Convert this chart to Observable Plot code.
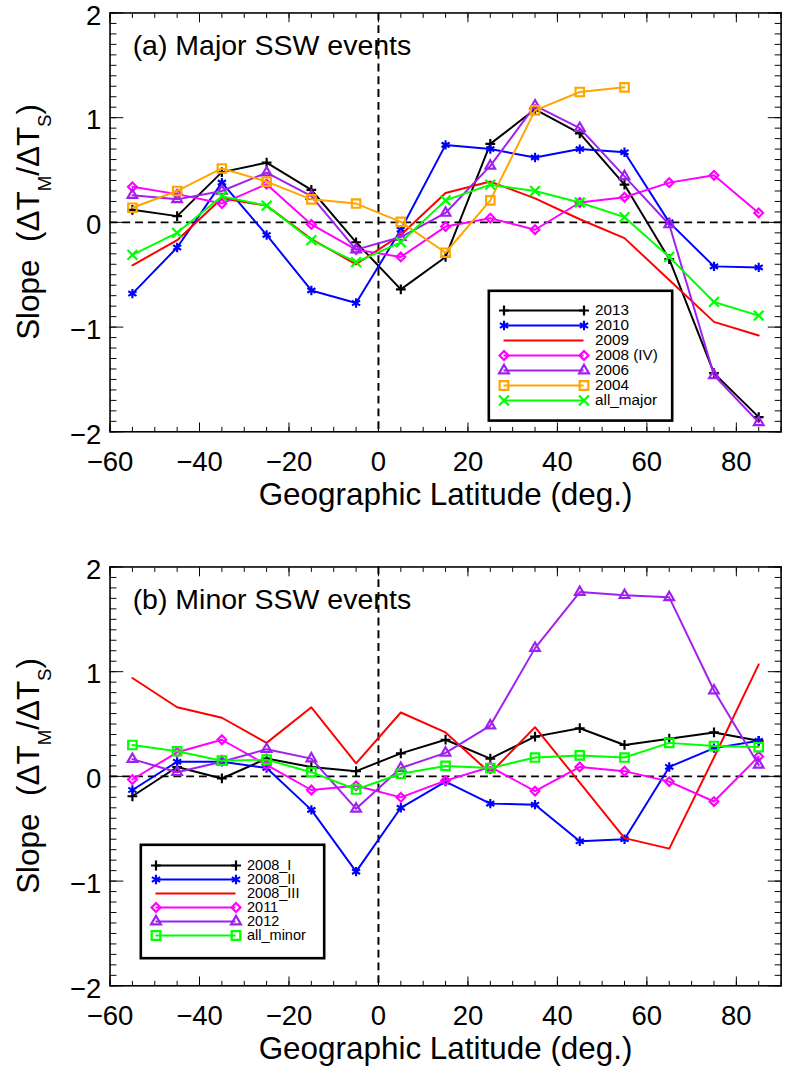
<!DOCTYPE html>
<html><head><meta charset="utf-8">
<script src="https://cdn.jsdelivr.net/npm/d3@7"></script>
<script src="https://cdn.jsdelivr.net/npm/@observablehq/plot@0.6"></script>
<style>
body{margin:0;background:#fff;}
#root{position:relative;width:786px;height:1079px;overflow:hidden;font-family:"Liberation Sans",Arial,sans-serif;background:#fff;}
.abs{position:absolute;}
</style></head><body><div id="root"></div>
<script>
// ---------- data ----------
const latitudes = [-55,-45,-35,-25,-15,-5,5,15,25,35,45,55,65,75,85];

const major2013   = [0.12,0.06,0.48,0.57,0.31,-0.19,-0.64,-0.33,0.75,1.08,0.85,0.36,-0.35,-1.44,-1.86];
const major2010   = [-0.68,-0.24,0.38,-0.12,-0.65,-0.77,-0.07,0.74,0.70,0.62,0.70,0.67,0.00,-0.42,-0.43];
const major2009   = [-0.41,-0.17,0.23,0.16,-0.16,-0.40,-0.12,0.28,0.39,0.23,0.03,-0.15,-0.55,-0.95,-1.08];
const major2008IV = [0.34,0.27,0.18,0.365,-0.02,-0.26,-0.33,-0.04,0.04,-0.07,0.19,0.24,0.38,0.45,0.09];
const major2006   = [0.26,0.22,0.30,0.475,0.25,-0.26,-0.14,0.09,0.54,1.115,0.90,0.44,-0.02,-1.46,-1.91];
const major2004   = [0.14,0.30,0.515,0.39,0.22,0.18,0.005,-0.29,0.21,1.07,1.245,1.29];
const allMajor    = [-0.31,-0.10,0.25,0.16,-0.17,-0.38,-0.19,0.21,0.36,0.30,0.19,0.05,-0.33,-0.76,-0.89];

const minor2008I   = [-0.19,0.09,-0.02,0.17,0.09,0.05,0.22,0.35,0.17,0.38,0.46,0.30,0.36,0.42,0.34];
const minor2008II  = [-0.13,0.14,0.14,0.08,-0.32,-0.91,-0.30,-0.05,-0.26,-0.27,-0.62,-0.60,0.09,0.27,0.34];
const minor2008III = [0.94,0.66,0.56,0.32,0.66,0.125,0.61,0.42,0.03,0.47,-0.06,-0.59,-0.69,0.18,1.07];
const minor2011    = [-0.03,0.23,0.35,0.11,-0.13,-0.09,-0.20,-0.04,0.09,-0.14,0.09,0.05,-0.05,-0.24,0.19];
const minor2012    = [0.165,0.04,0.14,0.26,0.17,-0.31,0.08,0.225,0.485,1.225,1.76,1.73,1.71,0.82,0.11];
const allMinor     = [0.30,0.24,0.15,0.16,0.04,-0.125,0.025,0.10,0.08,0.18,0.20,0.18,0.32,0.29,0.28];

const majorNames = ["2013","2010","2009","2008 (IV)","2006","2004","all_major"];
const minorNames = ["2008_I","2008_II","2008_III","2011","2012","all_minor"];

const xTickLabels = [-60,-40,-20,0,20,40,60,80];
const yTickLabels = [-2,-1,0,1,2];
const xLabel = "Geographic Latitude (deg.)";

// ---------- styles ----------
const SYM = {
  plus:{symbol:"plus", r:3.3},
  asterisk:{symbol:"asterisk", r:4.5},
  diamond:{symbol:"diamond2", r:4.0},
  triangle:{symbol:"triangle2", r:4.7},
  square:{symbol:"square2", r:5.5},
  times:{symbol:"times", r:4.6}
};
const majorSeries = [
  {name:majorNames[0], values:major2013,   color:"#000000", sym:SYM.plus},
  {name:majorNames[1], values:major2010,   color:"#0000ff", sym:SYM.asterisk},
  {name:majorNames[2], values:major2009,   color:"#ff0000", sym:null},
  {name:majorNames[3], values:major2008IV, color:"#ff00ff", sym:SYM.diamond},
  {name:majorNames[4], values:major2006,   color:"#a020f0", sym:SYM.triangle},
  {name:majorNames[5], values:major2004,   color:"#ffa500", sym:SYM.square},
  {name:majorNames[6], values:allMajor,    color:"#00ff00", sym:SYM.times}
];
const minorSeries = [
  {name:minorNames[0], values:minor2008I,   color:"#000000", sym:SYM.plus},
  {name:minorNames[1], values:minor2008II,  color:"#0000ff", sym:SYM.asterisk},
  {name:minorNames[2], values:minor2008III, color:"#ff0000", sym:null},
  {name:minorNames[3], values:minor2011,    color:"#ff00ff", sym:SYM.diamond},
  {name:minorNames[4], values:minor2012,    color:"#a020f0", sym:SYM.triangle},
  {name:minorNames[5], values:allMinor,     color:"#00ff00", sym:SYM.square}
];

const FONT = "Liberation Sans, Arial, Helvetica, sans-serif";
const root = document.getElementById("root");
const intFmt = d3.format("d");

function panel(series, title, topPx) {
  const marks = [
    Plot.ruleY([0], {stroke:"black", strokeWidth:2, strokeDasharray:"8,5"}),
    Plot.ruleX([0], {stroke:"black", strokeWidth:2, strokeDasharray:"8,5"})
  ];
  for (const s of series) {
    const d = s.values.map((v,i)=>({lat:latitudes[i], v}));
    marks.push(Plot.line(d, {x:"lat", y:"v", stroke:s.color, strokeWidth:2}));
    if (s.sym) marks.push(Plot.dot(d, {x:"lat", y:"v", symbol:s.sym.symbol, r:s.sym.r, stroke:s.color, strokeWidth:2.2}));
  }
  const minorX = d3.range(-60, 91, 5);
  const majorX = d3.range(-60, 91, 20);
  const minorY = d3.range(-20, 21, 1).map(d=>d/10);
  marks.push(
    Plot.axisX(minorX, {anchor:"bottom", tickSize:-4.5, fill:"none", label:null}),
    Plot.axisX(majorX, {anchor:"bottom", tickSize:-9, fill:"none", label:null}),
    Plot.axisX(minorX, {anchor:"top", tickSize:-4.5, fill:"none", label:null}),
    Plot.axisX(majorX, {anchor:"top", tickSize:-9, fill:"none", label:null}),
    Plot.axisY(minorY, {anchor:"left", tickSize:-7, fill:"none", label:null}),
    Plot.axisY(yTickLabels, {anchor:"left", tickSize:-14, fill:"none", label:null}),
    Plot.axisY(minorY, {anchor:"right", tickSize:-7, fill:"none", label:null}),
    Plot.axisY(yTickLabels, {anchor:"right", tickSize:-14, fill:"none", label:null}),
    Plot.axisX(xTickLabels, {anchor:"bottom", tickSize:0, tickPadding:20, fontSize:28, tickFormat:intFmt, label:null}),
    Plot.axisY(yTickLabels, {anchor:"left", tickSize:0, tickPadding:9, fontSize:28, dy:3, tickFormat:intFmt, label:null}),
    Plot.frame({stroke:"black", strokeWidth:1.6}),
    Plot.text([title], {frameAnchor:"top-left", dx:23, dy:33, fontSize:29, lineAnchor:"middle", textAnchor:"start"}),
    Plot.text([xLabel], {frameAnchor:"bottom", dy:64, fontSize:32, lineAnchor:"middle"})
  );
  const svg = Plot.plot({
    width:800, height:540,
    marginLeft:111.5, marginRight:5.5, marginTop:12.7, marginBottom:101,
    x:{domain:[-60,90], label:null},
    y:{domain:[-2,2], label:null},
    style:{fontFamily:FONT, background:"transparent", color:"black", overflow:"visible"},
    marks
  });
  // y-axis label with subscripts
  const t = d3.select(svg).append("text")
    .attr("transform", "translate(40,225.85) rotate(-90)")
    .attr("text-anchor", "middle")
    .attr("font-size", 32)
    .attr("font-family", FONT)
    .attr("fill", "black");
  t.append("tspan").text("Slope\u00a0\u00a0(\u0394T");
  t.append("tspan").attr("font-size", 19).attr("dy", 12).text("M");
  t.append("tspan").attr("dy", -12).text("/\u0394T");
  t.append("tspan").attr("font-size", 19).attr("dy", 12).text("S");
  t.append("tspan").attr("dy", -12).text(")");
  const div = document.createElement("div");
  div.className = "abs";
  div.style.left = "0px"; div.style.top = topPx + "px";
  div.appendChild(svg);
  root.appendChild(div);
}

function legend(series, left, top, h, fontSize) {
  const names = series.map(s=>s.name);
  const marks = [Plot.frame({stroke:"black", strokeWidth:2.6, inset:1.3, fill:"white"})];
  for (const s of series) {
    marks.push(Plot.ruleY([s.name], {y:d=>d, x1:0, x2:1, stroke:s.color, strokeWidth:2}));
    if (s.sym) marks.push(Plot.dot([0,1], {x:d=>d, y:()=>s.name, symbol:s.sym.symbol, r:s.sym.r, stroke:s.color, strokeWidth:2.2}));
  }
  marks.push(Plot.text(names, {x:1, y:d=>d, text:d=>d, dx:11, textAnchor:"start", lineAnchor:"middle", fontSize, fill:"black"}));
  const svg = Plot.plot({
    width:186, height:h, margin:0,
    x:{domain:[0,1], range:[16.5,96.5], axis:null},
    y:{type:"point", domain:names, range:[13, 13 + 17.6*(names.length-1)], axis:null},
    style:{fontFamily:FONT, background:"transparent", color:"black", overflow:"visible"},
    marks
  });
  const div = document.createElement("div");
  div.className = "abs";
  div.style.left = left + "px"; div.style.top = top + "px";
  div.appendChild(svg);
  root.appendChild(div);
}

panel(majorSeries, "(a) Major SSW events", 0);
panel(minorSeries, "(b) Minor SSW events", 554.3);
legend(majorSeries, 486.7, 289.3, 132.4, 15.3);
legend(minorSeries, 139, 843.3, 116, 14.5);
</script>
</body></html>
